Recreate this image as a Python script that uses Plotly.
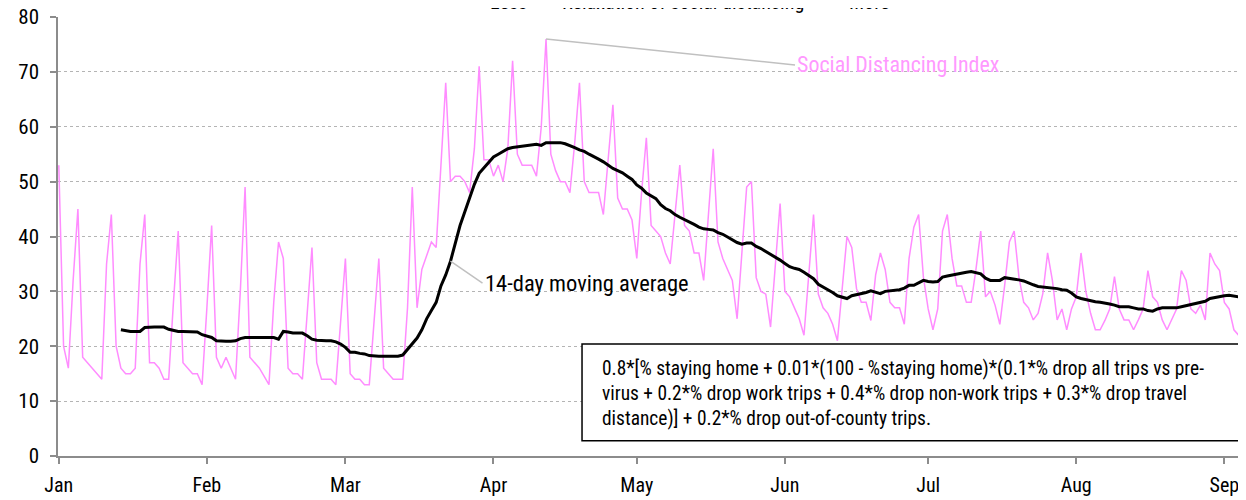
import plotly.graph_objects as go
import pandas as pd

# Daily Social Distancing Index, Jan 1 2020 onward
daily_values = [
    53, 20, 16, 32, 45, 18, 17, 16, 15, 14,
    35, 44, 20, 16, 15, 15, 16, 35, 44, 17,
    17, 16, 14, 14, 28, 41, 17, 16, 15, 15,
    13, 27, 42, 18, 16, 18, 16, 14, 30, 49,
    18, 17, 16, 14.5, 13, 28, 39, 36, 16, 15,
    15, 14, 27, 38, 17, 14, 14, 14, 13, 25,
    36, 15, 14, 14, 13, 13, 25, 36, 16, 15,
    14, 14, 14, 27, 49, 27, 34, 36.5, 39, 38,
    52, 68, 50, 51, 51, 50, 48, 56, 71, 54,
    54, 51, 53, 50, 56, 72, 55, 53, 53, 53,
    51, 60, 76, 55, 52, 50, 50, 48, 57, 68,
    50, 48, 48, 48, 44, 54, 64, 47, 45, 45,
    43, 36, 48, 58, 42, 41, 40, 37, 35, 44,
    53, 42, 41, 37, 37, 32, 44, 56, 39, 36,
    34, 32, 25, 37, 49, 50, 32.5, 30, 29.5, 23.5,
    35, 46, 30, 29, 27, 25, 22, 33, 44, 29.5,
    27, 26, 24, 21, 30, 40, 38, 30.5, 28, 28,
    24.7, 33, 37, 34, 28, 27, 27, 24, 36, 41.7,
    44, 32.6, 26.8, 23, 26.8, 41, 44, 36, 31, 31,
    28, 28, 34, 41, 29, 30, 27.5, 24, 31, 39,
    41, 32.6, 28, 27, 24.8, 26, 29.6, 37, 32, 24.8,
    26.8, 23, 26.8, 29, 37, 30, 26, 23, 23, 24.7,
    26.8, 32.7, 26.8, 24.8, 24.8, 23, 24.8, 26.8, 33.8, 29,
    28, 24.8, 23, 24.8, 26.8, 33.8, 32, 26.8, 26, 27.5,
    24.8, 37, 35, 33.8, 28, 26.8, 23, 22, 26.8,
]

# 14-day moving average, starting Jan 14
ma_values = [
    23.0, 22.8, 22.7, 22.7, 22.7, 23.4, 23.5, 23.5, 23.5, 23.5,
    23.1, 22.9, 22.7, 22.7, 22.7, 22.7, 22.6, 22.1, 21.8, 21.6,
    21.0, 20.9, 20.9, 20.9, 21.0, 21.4, 21.6, 21.6, 21.6, 21.6,
    21.6, 21.6, 21.6, 21.3, 22.7, 22.6, 22.4, 22.4, 22.4, 21.9,
    21.3, 21.1, 21.0, 21.0, 21.0, 20.8, 20.4, 19.8, 18.9, 18.9,
    18.7, 18.6, 18.3, 18.2, 18.2, 18.2, 18.2, 18.2, 18.2, 18.4,
    19.5, 20.4, 21.5, 23.0, 25.0, 26.5, 28.0, 31.0, 33.0, 35.5,
    39.0, 42.0, 44.5, 47.0, 49.5, 51.5, 52.5, 53.5, 54.5, 55.0,
    55.5, 56.0, 56.2, 56.3, 56.4, 56.6, 56.7, 56.8, 56.6, 57.1,
    57.1, 57.1, 57.1, 56.9, 56.6, 56.2, 55.8, 55.5, 55.0, 54.6,
    54.1, 53.6, 53.0, 52.4, 52.0, 51.6, 51.0, 50.4, 49.4, 48.8,
    47.9, 47.4, 46.9, 45.8, 45.1, 44.7, 44.0, 43.5, 43.1, 42.6,
    42.2, 41.7, 41.4, 41.3, 41.2, 40.7, 40.4, 39.9, 39.4, 38.9,
    38.6, 38.8, 38.8, 38.2, 37.8, 37.3, 36.8, 36.2, 35.7, 35.1,
    34.5, 34.2, 34.0, 33.5, 32.9, 32.3, 31.3, 30.8, 30.4, 29.8,
    29.2, 28.9, 28.7, 29.2, 29.4, 29.5, 29.8, 30.1, 29.8, 29.6,
    30.0, 30.1, 30.1, 30.3, 30.6, 31.1, 31.1, 31.5, 32.0, 31.8,
    31.7, 31.8, 32.6, 32.8, 33.0, 33.2, 33.3, 33.5, 33.6, 33.4,
    33.2, 32.4, 32.0, 32.0, 32.0, 32.5, 32.4, 32.3, 32.1, 31.9,
    31.5, 31.2, 30.9, 30.8, 30.8, 30.6, 30.5, 30.3, 30.2, 29.7,
    29.0, 28.7, 28.5, 28.2, 28.1, 28.0, 27.9, 27.7, 27.5, 27.2,
    27.2, 27.2, 27.0, 26.8, 26.8, 26.5, 26.4, 26.8, 27.0, 27.0,
    27.0, 27.0, 27.2, 27.4, 27.6, 27.7, 27.9, 28.2, 28.7, 28.9,
    29.0, 29.2, 29.3, 29.1, 29.0, 29.0,
]

start_date = "2020-01-01"
ma_offset = 13
y_ticks = [0, 10, 20, 30, 40, 50, 60, 70, 80]

formula_text = ("0.8*[% staying home + 0.01*(100 - %staying home)*(0.1*% drop all trips vs pre-<br>"
                "virus + 0.2*% drop work trips + 0.4*% drop non-work trips + 0.3*% drop travel<br>"
                "distance)] + 0.2*% drop out-of-county trips.")

dates = pd.date_range(start_date, periods=len(daily_values), freq="D")
ma_dates = dates[ma_offset:ma_offset + len(ma_values)]

FONT = "Roboto Condensed, DejaVu Sans Condensed, Liberation Sans Narrow, Liberation Sans, sans-serif"
PINK = "#ff8cff"

fig = go.Figure()
fig.add_trace(go.Scatter(x=dates, y=daily_values, mode="lines",
                         line=dict(color=PINK, width=1.5), showlegend=False,
                         name="Social Distancing Index"))
fig.add_trace(go.Scatter(x=ma_dates, y=ma_values, mode="lines",
                         line=dict(color="black", width=3), showlegend=False,
                         name="14-day moving average"))

peak_i = max(range(len(daily_values)), key=lambda i: daily_values[i])
fig.add_annotation(x=dates[peak_i], y=daily_values[peak_i], text="Social Distancing Index",
                   showarrow=True, arrowhead=0, arrowcolor="#c0c0c0", arrowwidth=1.5,
                   ax=249, ay=26, xanchor="left", yanchor="middle",
                   font=dict(family=FONT, size=22, color="#ff99ff"))
ma_i = 82 - ma_offset
fig.add_annotation(x=ma_dates[ma_i], y=ma_values[ma_i], text="14-day moving average",
                   showarrow=True, arrowhead=0, arrowcolor="#c0c0c0", arrowwidth=1.5,
                   ax=32, ay=22, xanchor="left", yanchor="middle",
                   font=dict(family=FONT, size=22.5, color="black"))

# formula box
fig.add_shape(type="rect", xref="paper", yref="paper", x0=0.4411, x1=0.9966,
              y0=0.035, y1=0.2551, line=dict(color="black", width=1.5),
              fillcolor="white", layer="above")
fig.add_annotation(xref="paper", yref="paper", x=0.4562, y=0.1435, xanchor="left",
                   yanchor="middle", align="left", showarrow=False, text=formula_text,
                   font=dict(family=FONT, size=19.4, color="black"))

# legend text at top (cropped in the reference)
for txt, xp in [("Less", 0.3792), ("Relaxation of social distancing", 0.5257), ("More", 0.6826)]:
    fig.add_annotation(xref="paper", yref="paper", x=xp, y=1.034, text=txt, showarrow=False,
                       xanchor="center", yanchor="middle",
                       font=dict(family=FONT, size=20, color="black"))

fig.update_layout(
    width=1246, height=500,
    margin=dict(l=50, r=8, t=9, b=52, autoexpand=False),
    plot_bgcolor="white", paper_bgcolor="white",
    font=dict(family=FONT, size=20, color="black"),
    xaxis=dict(type="date", range=["2019-12-31 20:00", "2020-09-05 12:48"],
               dtick="M1", tick0="2020-01-01", tickformat="%b", automargin=False,
               ticks="outside", ticklen=6, tickcolor="#8c8c8c", tickwidth=1.5,
               showline=True, linecolor="#8c8c8c", linewidth=1.5,
               showgrid=False, zeroline=False, ticklabelstandoff=4,
               ticklabeloverflow="allow",
               tickfont=dict(family=FONT, size=20, color="black")),
    yaxis=dict(range=[0, 80], tickvals=y_ticks, ticks="outside", ticklen=6,
               tickcolor="#8c8c8c", tickwidth=1.5, automargin=False,
               showline=True, linecolor="#8c8c8c", linewidth=1.5,
               showgrid=True, gridcolor="#b4b4b4", griddash="dot", gridwidth=1,
               zeroline=False, ticklabelstandoff=7, ticklabeloverflow="allow",
               tickfont=dict(family=FONT, size=21, color="black")),
)

fig.write_html("out.html")
